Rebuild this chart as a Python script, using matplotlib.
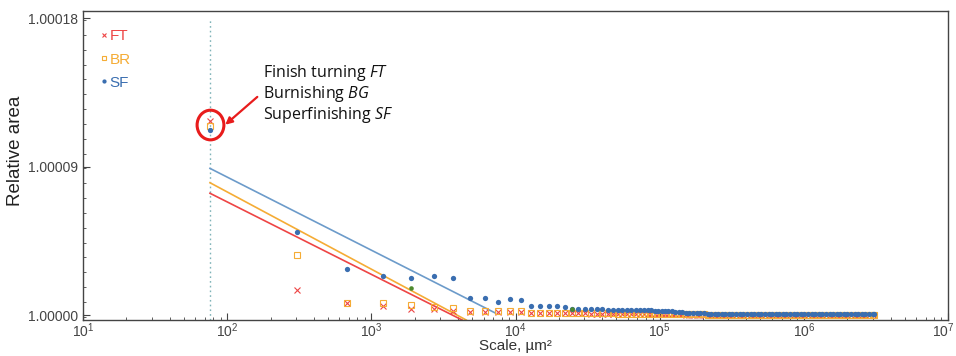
import matplotlib
matplotlib.use('Agg')
import matplotlib.pyplot as plt
from matplotlib.patches import Ellipse
from matplotlib.transforms import ScaledTranslation
from matplotlib.ticker import FixedLocator, FixedFormatter, MultipleLocator, LogLocator, NullFormatter
import numpy as np

plt.rcParams['font.family'] = ['Liberation Sans', 'DejaVu Sans']
plt.rcParams['mathtext.fontset'] = 'custom'
plt.rcParams['mathtext.rm'] = 'Liberation Sans'
plt.rcParams['mathtext.it'] = 'Open Sans:italic'

# scale of the evaluation, um^2
scale = [76, 303, 681, 1211, 1892, 2725, 3709, 4845, 6132, 7570, 9160, 10900,
         12790, 14840, 17030, 19380, 21880,
         24500, 27300, 30300, 33400, 36600, 40000, 43600, 47300, 51200, 55200,
         59300, 63700, 68100, 72700, 77500, 82500, 87500, 92800, 98100, 103600,
         109300, 115100, 121100,
         128000, 136000, 144000, 152000, 161000, 171000, 181000, 191000, 203000,
         215000, 227000, 241000, 255000, 270000, 286000, 303000, 320000, 339000,
         359000, 381000, 403000, 427000, 452000, 479000, 507000, 537000, 569000,
         602000, 638000, 675000, 715000, 758000, 802000, 850000, 900000, 953000,
         1009000, 1069000, 1132000, 1198000, 1269000, 1344000, 1423000, 1507000,
         1596000, 1690000, 1790000, 1895000, 2007000, 2125000, 2251000, 2383000,
         2524000, 2673000, 2830000, 2997000, 3058000]

# relative area minus 1, in units of 1e-6
ft = [117.5, 15.2, 7.5, 5.5, 3.6, 3.5, 2.6, 2.0, 2.0, 1.8, 1.8, 1.6, 1.4, 1.2, 1.2, 1.2, 1.1,
      1.0, 1.0, 1.0, 0.9, 0.9, 0.9, 0.8, 0.8, 0.8, 0.8, 0.7, 0.7, 0.7, 0.7, 0.6, 0.6,
      0.6, 0.6, 0.5, 0.5, 0.5, 0.5, 0.4,
      0.4, 0.4, 0.4, 0.3, 0.3, 0.3, 0.3, 0.3, 0.3, 0.2, 0.2, 0.2, 0.2, 0.2, 0.2, 0.2,
      0.2, 0.1, 0.1, 0.1, 0.1, 0.1, 0.1, 0.1, 0.1, 0.1, 0.1, 0.1, 0.1, 0.1, 0.1, 0.1,
      0.1, 0.1, 0.1, 0.0, 0.0, 0.0, 0.0, 0.0, 0.0, 0.0, 0.0, 0.0, 0.0, 0.0, 0.0, 0.0,
      0.0, 0.0, 0.0, 0.0, 0.0, 0.0, 0.0, 0.0, 0.0]
br = [114.7, 36.4, 7.5, 7.5, 5.8, 5.0, 4.1, 2.6, 2.6, 2.3, 2.3, 2.3, 1.4, 1.4, 1.4, 1.3, 1.3,
      1.2, 1.2, 1.1, 1.1, 1.1, 1.0, 1.0, 1.0, 0.9, 0.9, 0.9, 0.9, 0.8, 0.8, 0.8, 0.8,
      0.7, 0.7, 0.7, 0.7, 0.6, 0.6, 0.6,
      0.5, 0.5, 0.5, 0.5, 0.4, 0.4, 0.4, 0.4, 0.4, 0.3, 0.3, 0.3, 0.3, 0.3, 0.3, 0.3,
      0.2, 0.2, 0.2, 0.2, 0.2, 0.2, 0.2, 0.2, 0.1, 0.1, 0.1, 0.1, 0.1, 0.1, 0.1, 0.1,
      0.1, 0.1, 0.1, 0.1, 0.0, 0.0, 0.0, 0.0, 0.0, 0.0, 0.0, 0.0, 0.0, 0.0, 0.0, 0.0,
      0.0, 0.0, 0.0, 0.0, 0.0, 0.0, 0.0, 0.0, 0.0]
sf = [112.3, 50.6, 27.7, 23.9, 22.6, 23.5, 22.6, 10.3, 10.3, 8.1, 9.7, 8.9, 5.5, 5.5, 5.5, 5.5, 5.0,
      3.6, 3.6, 3.5, 3.5, 3.4, 3.4, 3.3, 3.3, 3.2, 3.1, 3.1, 3.0, 3.0, 2.9, 2.9, 2.8,
      2.8, 2.7, 2.7, 2.6, 2.7, 2.4, 2.2,
      2.0, 1.8, 1.6, 1.4, 1.3, 1.2, 1.1, 1.0, 1.0, 0.9, 0.9, 0.9, 0.8, 0.8, 0.8, 0.8,
      0.8, 0.7, 0.7, 0.7, 0.7, 0.7, 0.7, 0.7, 0.7, 0.7, 0.6, 0.6, 0.6, 0.6, 0.6, 0.6,
      0.6, 0.6, 0.6, 0.6, 0.6, 0.6, 0.6, 0.6, 0.6, 0.6, 0.6, 0.6, 0.6, 0.6, 0.6, 0.6,
      0.6, 0.6, 0.6, 0.6, 0.6, 0.6, 0.6, 0.6, 0.6]

# odd green points
extra_scale = [1892, 24500]
extra = [16.6, 3.6]

# fit lines (start, end)
fit_scale = {'FT': [76, 4265], 'BR': [76, 4550], 'SF': [76, 7260]}
fit_val = {'FT': [73.9, -3.0], 'BR': [80.3, -3.0], 'SF': [89.0, 1.2]}

red = '#ee4545'
orange = '#f5ac35'
blue_line = '#6c9bca'
blue_dot = '#3a6eb0'

def rel(v):
    return 1 + np.array(v) * 1e-6

fig = plt.figure(figsize=(9.56, 3.56), dpi=100)
ax = fig.add_axes([83/956, 36/356, 865/956, 309/356])
ax.set_xscale('log')

ax.axvline(76, ymax=0.975, color='#7fb3b8', ls=(0, (1.2, 2.2)), lw=1.0, zorder=1)

ax.plot(fit_scale['FT'], rel(fit_val['FT']), color=red, lw=1.2)
ax.plot(fit_scale['BR'], rel(fit_val['BR']), color=orange, lw=1.2)
ax.plot(fit_scale['SF'], rel(fit_val['SF']), color=blue_line, lw=1.2)

ax.plot(scale, rel(ft), 'x', color=red, ms=3.8, mew=0.8, label='FT', zorder=3)
ax.plot(scale, rel(br), 's', color=orange, mfc='none', ms=4.2, mew=0.8, label='BR', zorder=3)
ax.plot(scale, rel(sf), 'o', color=blue_dot, ms=3.8, mew=0, label='SF', zorder=4)
ax.plot(extra_scale, rel(extra), 'o', color='#4e8a2e', ms=3.3, mew=0, zorder=5)

ax.set_xlim(10, 1e7)
ax.set_ylim(1 - 3.0e-6, 1 + 184.5e-6)

ax.xaxis.set_major_locator(FixedLocator([10**i for i in range(1, 8)]))
ax.xaxis.set_major_formatter(FixedFormatter([r'$\mathregular{10^{%d}}$' % i for i in range(1, 8)]))
ax.xaxis.set_minor_locator(LogLocator(base=10, subs=np.arange(2, 10), numticks=20))
ax.xaxis.set_minor_formatter(NullFormatter())
ax.yaxis.set_major_locator(FixedLocator([1.0, 1.00009, 1.00018]))
ax.yaxis.set_major_formatter(FixedFormatter(['1.00000', '1.00009', '1.00018']))
ax.yaxis.set_minor_locator(MultipleLocator(0.000009))

ax.tick_params(which='both', direction='in', top=False, right=False, colors='#444444',
               labelsize=10)
ax.tick_params(which='major', length=5, width=0.8)
ax.tick_params(which='minor', length=2.5, width=0.6)
ax.tick_params(axis='x', which='major', pad=1)
for s in ax.spines.values():
    s.set_color('#444444')
    s.set_linewidth(1.0)

ax.set_xlabel('Scale, µm²', fontsize=11, color='#333333')
ax.xaxis.set_label_coords(0.5, -0.06)
ax.set_ylabel('Relative area', fontsize=13.5, color='#222222')
ax.yaxis.set_label_coords(-0.068, 0.549)

fig.canvas.draw()
last = ax.get_xticklabels()[-1]
last.set_transform(last.get_transform() + ScaledTranslation(-5/100, 0, fig.dpi_scale_trans))

leg = ax.legend(loc='upper left', bbox_to_anchor=(0.004, 0.985), frameon=False,
                handlelength=0.5, handletextpad=0.1, labelspacing=0.6,
                fontsize=11, labelcolor='linecolor', markerscale=0.8)

# annotation
ax.add_patch(Ellipse((0.1474, 0.631), 0.031, 0.096, transform=ax.transAxes,
                     fill=False, ec='#e81c1c', lw=2.2, zorder=6))
ax.annotate('', xy=(0.1645, 0.632), xytext=(0.2015, 0.722), xycoords='axes fraction',
            arrowprops=dict(arrowstyle='-|>', color='#e81c1c', lw=1.6,
                            mutation_scale=10, shrinkA=0, shrinkB=0))
notes = [r'Finish turning $\mathit{FT}$', r'Burnishing $\mathit{BG}$',
         r'Superfinishing $\mathit{SF}$']
for i, t in enumerate(notes):
    ax.text(0.208, 0.8 - i * 0.068, t, transform=ax.transAxes, fontsize=11.5,
            family='Open Sans', va='center', ha='left', color='#111111')

fig.savefig('out.png', dpi=100)
